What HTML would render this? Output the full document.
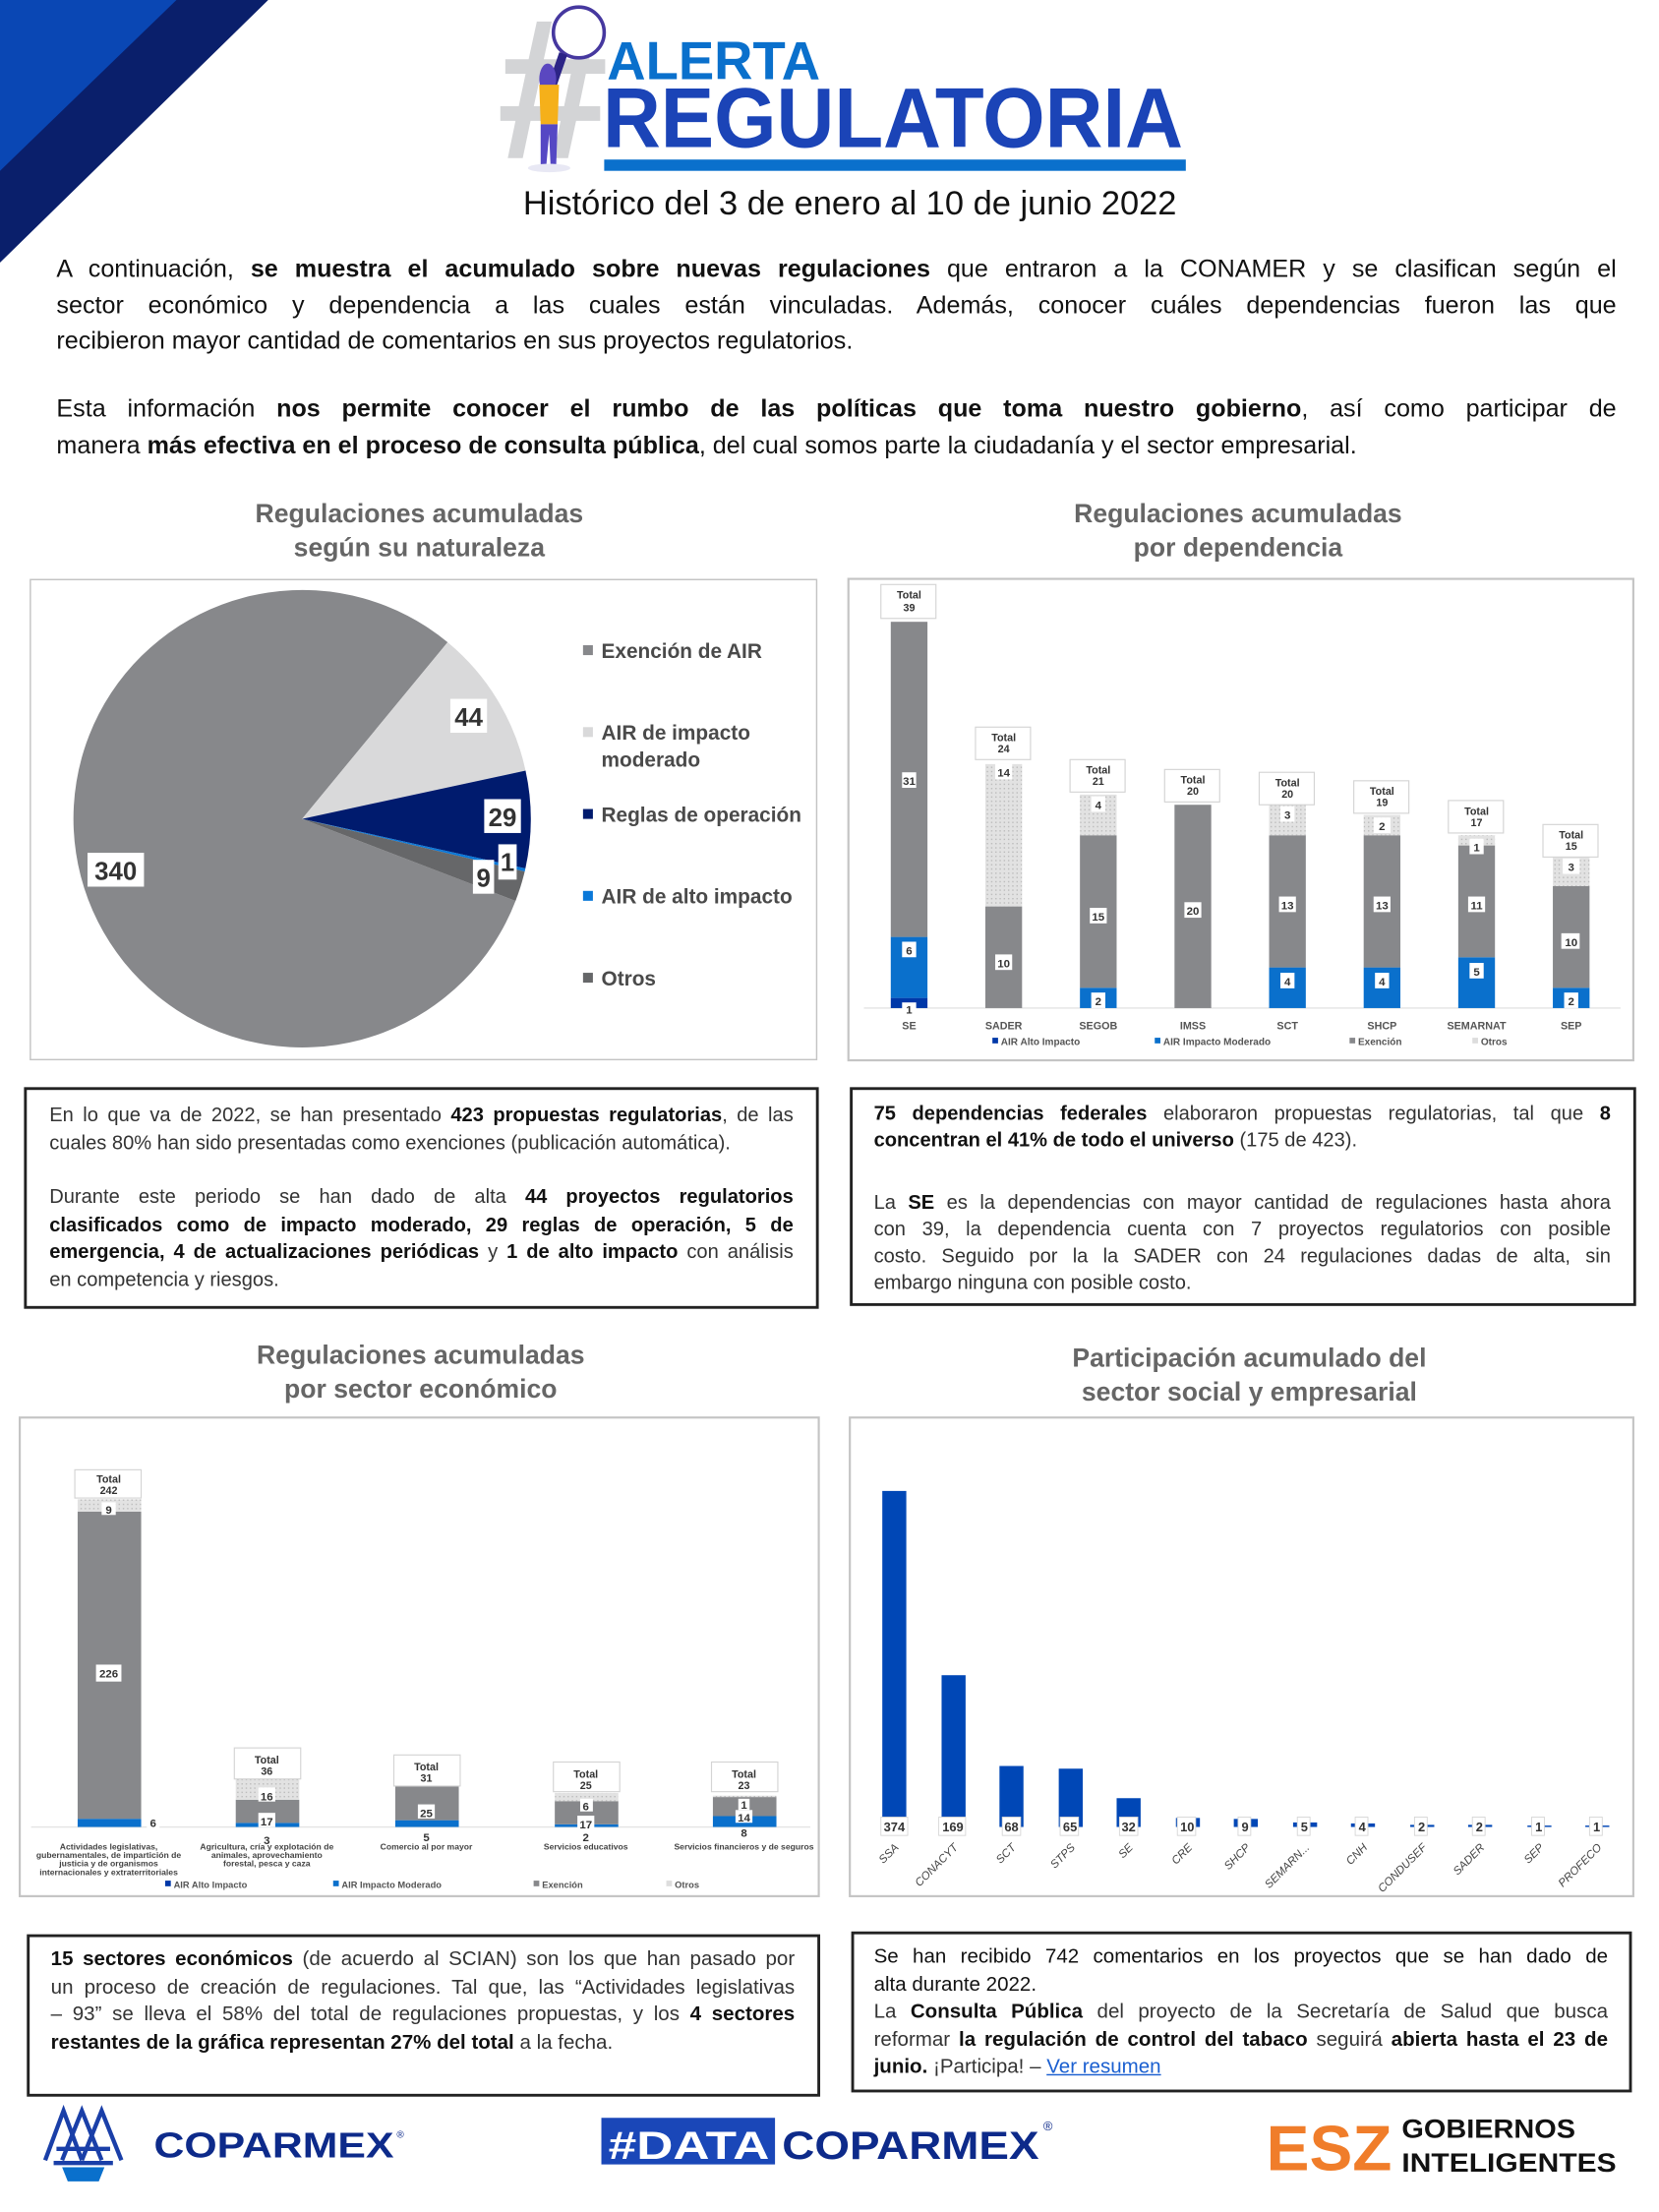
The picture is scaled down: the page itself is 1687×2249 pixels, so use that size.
<!DOCTYPE html>
<html><head><meta charset="utf-8">
<style>
html,body{margin:0;padding:0;background:#fff;}
body{width:1687px;height:2249px;overflow:hidden;position:relative;}
#w{position:absolute;left:0;top:0;width:1170px;height:1560px;transform:scale(1.4355);transform-origin:0 0;font-family:"Liberation Sans",sans-serif;color:#111;}
.a{position:absolute;}
.ln{display:block;text-align:justify;text-align-last:justify;white-space:nowrap;}
.ln.l{text-align-last:left;}
.p{font-size:17.5px;line-height:25.5px;left:40px;width:1105px;}
.box{position:absolute;border:2px solid #222;box-sizing:border-box;font-size:14px;color:#333;}
.box b{color:#111;font-weight:bold;}
.tt{font-weight:bold;color:#666;font-size:18.5px;text-align:center;line-height:24px;}
.cb{position:absolute;border:1.5px solid #c4c4c4;box-sizing:border-box;}
</style></head><body><div id="w">

<svg class="a" style="left:0;top:0" width="200" height="200">
<polygon points="0,0 190,0 0,186" fill="#0a1f6b"/>
<polygon points="0,0 125,0 0,121" fill="#0a47b4"/>
</svg>

<!-- logo -->
<svg class="a" style="left:352px;top:0" width="500" height="130">
<text x="0" y="112" font-family="Liberation Sans" font-weight="bold" font-size="142" fill="#d3d4d6">#</text>
<circle cx="58" cy="23" r="18" fill="#fff" stroke="#46389f" stroke-width="2.5"/>
<line x1="47" y1="38" x2="36" y2="70" stroke="#2c2486" stroke-width="6"/>
<ellipse cx="36" cy="56" rx="6" ry="11" fill="#5a47c0"/>
<path d="M30 60 L44 60 L43 88 L31 88 Z" fill="#f5b01a"/>
<path d="M31 88 L43 88 L42 117 L38 117 L37 95 L35 117 L31 117 Z" fill="#5548c4"/>
<ellipse cx="37" cy="119" rx="15" ry="3" fill="#e8e8f4"/>
<text x="78" y="56" font-family="Liberation Sans" font-weight="bold" font-size="38" fill="#0a70cc" textLength="151" lengthAdjust="spacingAndGlyphs">ALERTA</text>
<text x="75" y="104" font-family="Liberation Sans" font-weight="bold" font-size="60" fill="#1b44b7" textLength="411" lengthAdjust="spacingAndGlyphs">REGULATORIA</text>
<rect x="76" y="113" width="412" height="8" fill="#0a70cc"/>
</svg>

<div class="a" style="left:0;width:1204px;top:131px;text-align:center;font-size:24px;color:#111;">Histórico del 3 de enero al 10 de junio 2022</div>

<div class="a p" style="top:178px;">
<span class="ln">A continuación, <b>se muestra el acumulado sobre nuevas regulaciones</b> que entraron a la CONAMER y se clasifican según el</span>
<span class="ln">sector económico y dependencia a las cuales están vinculadas. Además, conocer cuáles dependencias fueron las que</span>
<span class="ln l">recibieron mayor cantidad de comentarios en sus proyectos regulatorios.</span>
</div>
<div class="a p" style="top:277px;">
<span class="ln">Esta información <b>nos permite conocer el rumbo de las políticas que toma nuestro gobierno</b>, así como participar de</span>
<span class="ln l">manera <b>más efectiva en el proceso de consulta pública</b>, del cual somos parte la ciudadanía y el sector empresarial.</span>
</div>

<div class="a tt" style="left:97px;width:400px;top:352px;">Regulaciones acumuladas<br>según su naturaleza</div>
<div class="a tt" style="left:677px;width:400px;top:352px;">Regulaciones acumuladas<br>por dependencia</div>
<div class="a tt" style="left:98px;width:400px;top:948px;">Regulaciones acumuladas<br>por sector económico</div>
<div class="a tt" style="left:685px;width:400px;top:950px;">Participación acumulado del<br>sector social y empresarial</div>

<!-- pie box -->
<div class="cb" style="left:21px;top:410px;width:558px;height:341px;"></div>
<svg class="a" style="left:0;top:0" width="1170" height="1560" font-family="Liberation Sans">
<defs>
<pattern id="dots" width="3" height="3" patternUnits="userSpaceOnUse"><rect width="3" height="3" fill="#e2e2e2"/><rect width="1" height="1" fill="#bdbdbd"/></pattern>
</defs>
<!-- pie -->
<path d="M214,580 L365.2,638.1 A162,162 0 1 1 317.1,454.9 Z" fill="#87888b"/>
<path d="M214,580 L317.1,454.9 A162,162 0 0 1 372.3,545.8 Z" fill="#d9d9da"/>
<path d="M214,580 L372.3,545.8 A162,162 0 0 1 372.2,615.1 Z" fill="#001b6e"/>
<path d="M214,580 L372.2,615.1 A162,162 0 0 1 371.7,617.3 Z" fill="#0a78d8"/>
<path d="M214,580 L371.7,617.3 A162,162 0 0 1 365.2,638.1 Z" fill="#666769"/>
<g font-weight="bold" font-size="18" fill="#333" text-anchor="middle">
<rect x="319" y="495" width="26" height="24" fill="#fff"/><text x="332" y="514">44</text>
<rect x="343" y="566" width="26" height="24" fill="#fff"/><text x="356" y="585">29</text>
<rect x="353" y="598" width="13" height="25" fill="#fff"/><text x="359.5" y="617">1</text>
<rect x="335" y="609" width="15" height="24" fill="#fff"/><text x="342.5" y="628">9</text>
<rect x="62" y="604" width="40" height="24" fill="#fff"/><text x="82" y="623">340</text>
</g>
<g font-weight="bold" font-size="14.5" fill="#4a4a4a">
<rect x="413" y="457" width="7" height="7" fill="#87888b"/><text x="426" y="466">Exención de AIR</text>
<rect x="413" y="515" width="7" height="7" fill="#d9d9da"/><text x="426" y="524">AIR de impacto</text><text x="426" y="543">moderado</text>
<rect x="413" y="573" width="7" height="7" fill="#001b6e"/><text x="426" y="582">Reglas de operación</text>
<rect x="413" y="631" width="7" height="7" fill="#0a78d8"/><text x="426" y="640">AIR de alto impacto</text>
<rect x="413" y="689" width="7" height="7" fill="#666769"/><text x="426" y="698">Otros</text>
</g>

<!-- chart 2 -->
<rect x="601" y="410" width="556" height="341" fill="none" stroke="#c4c4c4" stroke-width="1.5"/>
<line x1="612" y1="714" x2="1148" y2="714" stroke="#e4e4e4"/>
<g>
<rect x="631" y="706.8" width="26" height="7.2" fill="#0038a8"/>
<rect x="631" y="663.6" width="26" height="43.2" fill="#0a70cc"/>
<rect x="631" y="440.4" width="26" height="223.2" fill="#87888b"/>
<rect x="698" y="642" width="26" height="72" fill="#87888b"/>
<rect x="698" y="541.2" width="26" height="100.8" fill="url(#dots)"/>
<rect x="765" y="699.6" width="26" height="14.4" fill="#0a70cc"/>
<rect x="765" y="591.6" width="26" height="108" fill="#87888b"/>
<rect x="765" y="562.8" width="26" height="28.8" fill="url(#dots)"/>
<rect x="832" y="570" width="26" height="144" fill="#87888b"/>
<rect x="899" y="685.2" width="26" height="28.8" fill="#0a70cc"/>
<rect x="899" y="591.6" width="26" height="93.6" fill="#87888b"/>
<rect x="899" y="570" width="26" height="21.6" fill="url(#dots)"/>
<rect x="966" y="685.2" width="26" height="28.8" fill="#0a70cc"/>
<rect x="966" y="591.6" width="26" height="93.6" fill="#87888b"/>
<rect x="966" y="577.2" width="26" height="14.4" fill="url(#dots)"/>
<rect x="1033" y="678" width="26" height="36" fill="#0a70cc"/>
<rect x="1033" y="598.8" width="26" height="79.2" fill="#87888b"/>
<rect x="1033" y="591.6" width="26" height="7.2" fill="url(#dots)"/>
<rect x="1100" y="699.6" width="26" height="14.4" fill="#0a70cc"/>
<rect x="1100" y="627.6" width="26" height="72" fill="#87888b"/>
<rect x="1100" y="606" width="26" height="21.6" fill="url(#dots)"/>
</g>
<g fill="#fff" stroke="#d4d4d4" stroke-width="0.8">
<rect x="624" y="414" width="39" height="24"/><rect x="691" y="515" width="39" height="23"/><rect x="758" y="538" width="39" height="23"/><rect x="825" y="545" width="39" height="23"/><rect x="892" y="547" width="39" height="23"/><rect x="959" y="553" width="39" height="23"/><rect x="1026" y="567" width="39" height="23"/><rect x="1093" y="584" width="39" height="23"/>
</g>
<g font-size="7.5" font-weight="bold" fill="#333" text-anchor="middle">
<text x="644" y="424">Total</text><text x="644" y="433">39</text>
<text x="711" y="525">Total</text><text x="711" y="533">24</text>
<text x="778" y="548">Total</text><text x="778" y="556">21</text>
<text x="845" y="555">Total</text><text x="845" y="563">20</text>
<text x="912" y="557">Total</text><text x="912" y="565">20</text>
<text x="979" y="563">Total</text><text x="979" y="571">19</text>
<text x="1046" y="577">Total</text><text x="1046" y="585">17</text>
<text x="1113" y="594">Total</text><text x="1113" y="602">15</text>
</g>
<g fill="#fff"><rect x="639" y="547" width="10" height="11"/><rect x="639" y="667" width="10" height="11"/><rect x="639" y="710" width="10" height="10"/><rect x="705" y="541" width="12" height="11"/><rect x="705" y="676" width="12" height="11"/><rect x="773" y="564" width="10" height="11"/><rect x="772" y="643" width="12" height="11"/><rect x="773" y="703" width="10" height="11"/><rect x="839" y="639" width="12" height="11"/><rect x="907" y="571" width="10" height="11"/><rect x="906" y="635" width="12" height="11"/><rect x="907" y="689" width="10" height="11"/><rect x="973" y="579" width="12" height="11"/><rect x="973" y="635" width="12" height="11"/><rect x="974" y="689" width="10" height="11"/><rect x="1041" y="594" width="10" height="11"/><rect x="1040" y="635" width="12" height="11"/><rect x="1041" y="682" width="10" height="11"/><rect x="1107" y="608" width="12" height="11"/><rect x="1106" y="661" width="13" height="11"/><rect x="1108" y="703" width="10" height="11"/></g>
<g font-size="8" font-weight="bold" fill="#333" text-anchor="middle">
<text x="644" y="556">31</text><text x="644" y="676">6</text><text x="644" y="718">1</text>
<text x="711" y="550">14</text><text x="711" y="685">10</text>
<text x="778" y="573">4</text><text x="778" y="652">15</text><text x="778" y="712">2</text>
<text x="845" y="648">20</text>
<text x="912" y="580">3</text><text x="912" y="644">13</text><text x="912" y="698">4</text>
<text x="979" y="588">2</text><text x="979" y="644">13</text><text x="979" y="698">4</text>
<text x="1046" y="603">1</text><text x="1046" y="644">11</text><text x="1046" y="691">5</text>
<text x="1113" y="617">3</text><text x="1113" y="670">10</text><text x="1113" y="712">2</text>
</g>
<g font-size="7.5" font-weight="bold" fill="#555" text-anchor="middle">
<text x="644" y="729">SE</text><text x="711" y="729">SADER</text><text x="778" y="729">SEGOB</text><text x="845" y="729">IMSS</text><text x="912" y="729">SCT</text><text x="979" y="729">SHCP</text><text x="1046" y="729">SEMARNAT</text><text x="1113" y="729">SEP</text>
</g>
<g font-size="7" font-weight="bold" fill="#555">
<rect x="703" y="735" width="4" height="4" fill="#0038a8"/><text x="709" y="740">AIR Alto Impacto</text>
<rect x="818" y="735" width="4" height="4" fill="#0a70cc"/><text x="824" y="740">AIR Impacto Moderado</text>
<rect x="956" y="735" width="4" height="4" fill="#87888b"/><text x="962" y="740">Exención</text>
<rect x="1043" y="735" width="4" height="4" fill="#ddd"/><text x="1049" y="740">Otros</text>
</g>

<!-- chart 3 -->
<rect x="14" y="1004" width="566" height="339" fill="none" stroke="#c4c4c4" stroke-width="1.5"/>
<line x1="22" y1="1294" x2="574" y2="1294" stroke="#e4e4e4"/>
<rect x="55" y="1288.2" width="45" height="5.8" fill="#0a70cc"/>
<rect x="55" y="1070.6" width="45" height="217.6" fill="#87888b"/>
<rect x="55" y="1061.9" width="45" height="8.7" fill="url(#dots)"/>
<rect x="167" y="1291.1" width="45" height="2.9" fill="#0a70cc"/>
<rect x="167" y="1274.7" width="45" height="16.4" fill="#87888b"/>
<rect x="167" y="1259.3" width="45" height="15.4" fill="url(#dots)"/>
<rect x="280" y="1289.2" width="45" height="4.8" fill="#0a70cc"/>
<rect x="280" y="1265.1" width="45" height="24.1" fill="#87888b"/>
<rect x="393" y="1292.1" width="45" height="1.9" fill="#0a70cc"/>
<rect x="393" y="1275.7" width="45" height="16.4" fill="#87888b"/>
<rect x="393" y="1269.9" width="45" height="5.8" fill="url(#dots)"/>
<rect x="505" y="1286.3" width="45" height="7.7" fill="#0a70cc"/>
<rect x="505" y="1272.8" width="45" height="13.5" fill="#87888b"/>
<rect x="505" y="1271.8" width="45" height="1" fill="url(#dots)"/>
<g fill="#fff" stroke="#d4d4d4" stroke-width="0.8">
<rect x="53" y="1041" width="47" height="20"/><rect x="166" y="1238" width="47" height="22"/><rect x="279" y="1243" width="47" height="22"/><rect x="392" y="1248" width="47" height="21"/><rect x="504" y="1248" width="47" height="21"/>
</g>
<g font-size="7.5" font-weight="bold" fill="#333" text-anchor="middle">
<text x="77" y="1050">Total</text><text x="77" y="1058">242</text>
<text x="189" y="1249">Total</text><text x="189" y="1257">36</text>
<text x="302" y="1254">Total</text><text x="302" y="1262">31</text>
<text x="415" y="1259">Total</text><text x="415" y="1267">25</text>
<text x="527" y="1259">Total</text><text x="527" y="1267">23</text>
</g>
<g fill="#fff"><rect x="72" y="1064" width="10" height="9"/><rect x="68" y="1179" width="18" height="12"/><rect x="104" y="1285" width="9" height="11"/><rect x="183" y="1266" width="12" height="10"/><rect x="183" y="1284" width="12" height="10"/><rect x="296" y="1278" width="12" height="10"/><rect x="411" y="1274" width="9" height="9"/><rect x="409" y="1286" width="12" height="10"/><rect x="523" y="1274" width="8" height="8"/><rect x="521" y="1282" width="12" height="9"/></g>
<g font-size="8" font-weight="bold" fill="#333" text-anchor="middle">
<text x="77" y="1072">9</text><text x="77" y="1188">226</text><text x="108.5" y="1294">6</text>
<text x="189" y="1275">16</text><text x="189" y="1293">17</text><text x="189" y="1306">3</text>
<text x="302" y="1287">25</text><text x="302" y="1304">5</text>
<text x="415" y="1282">6</text><text x="415" y="1295">17</text><text x="415" y="1304">2</text>
<text x="527" y="1281">1</text><text x="527" y="1290">14</text><text x="527" y="1301">8</text>
</g>
<g font-size="6" font-weight="bold" fill="#444" text-anchor="middle">
<text x="77" y="1310">Actividades legislativas,</text><text x="77" y="1316">gubernamentales, de impartición de</text><text x="77" y="1322">justicia y de organismos</text><text x="77" y="1328">internacionales y extraterritoriales</text>
<text x="189" y="1310">Agricultura, cría y explotación de</text><text x="189" y="1316">animales, aprovechamiento</text><text x="189" y="1322">forestal, pesca y caza</text>
<text x="302" y="1310">Comercio al por mayor</text>
<text x="415" y="1310">Servicios educativos</text>
<text x="527" y="1310">Servicios financieros y de seguros</text>
</g>
<g font-size="6.5" font-weight="bold" fill="#555">
<rect x="117" y="1332" width="4" height="4" fill="#0038a8"/><text x="123" y="1337">AIR Alto Impacto</text>
<rect x="236" y="1332" width="4" height="4" fill="#0a70cc"/><text x="242" y="1337">AIR Impacto Moderado</text>
<rect x="378" y="1332" width="4" height="4" fill="#87888b"/><text x="384" y="1337">Exención</text>
<rect x="472" y="1332" width="4" height="4" fill="#ddd"/><text x="478" y="1337">Otros</text>
</g>

<!-- chart 4 -->
<rect x="602" y="1004" width="555" height="339" fill="none" stroke="#c4c4c4" stroke-width="1.5"/>
<g fill="#0047b6">
<rect x="625" y="1056" width="17" height="238"/>
<rect x="667" y="1186.5" width="17" height="107.5"/>
<rect x="708" y="1250.8" width="17" height="43.2"/>
<rect x="750" y="1252.7" width="17" height="41.3"/>
<rect x="791" y="1273.6" width="17" height="20.4"/>
<rect x="833" y="1287.6" width="17" height="6.4"/>
<rect x="874" y="1288.3" width="17" height="5.7"/>
<rect x="916" y="1290.8" width="17" height="3.2"/>
<rect x="957" y="1291.5" width="17" height="2.5"/>
<rect x="999" y="1292.5" width="17" height="1.5"/>
<rect x="1040" y="1292.5" width="17" height="1.5"/>
<rect x="1082" y="1293" width="17" height="1"/>
<rect x="1123" y="1293" width="17" height="1"/>
</g>
<g fill="#fff" stroke="#d4d4d4" stroke-width="0.6">
<rect x="624" y="1287" width="19" height="13"/><rect x="665" y="1287" width="19" height="13"/><rect x="710" y="1287" width="13" height="13"/><rect x="751" y="1287" width="13" height="13"/><rect x="793" y="1287" width="13" height="13"/><rect x="834" y="1287" width="13" height="13"/><rect x="877" y="1287" width="9" height="13"/><rect x="919" y="1287" width="9" height="13"/><rect x="960" y="1287" width="9" height="13"/><rect x="1002" y="1287" width="9" height="13"/><rect x="1043" y="1287" width="9" height="13"/><rect x="1085" y="1287" width="9" height="13"/><rect x="1126" y="1287" width="9" height="13"/>
</g>
<g font-size="9" font-weight="bold" fill="#333" text-anchor="middle">
<text x="633.5" y="1297">374</text><text x="675" y="1297">169</text><text x="716.5" y="1297">68</text><text x="758" y="1297">65</text><text x="799.5" y="1297">32</text><text x="841" y="1297">10</text><text x="882" y="1297">9</text><text x="924" y="1297">5</text><text x="965" y="1297">4</text><text x="1007" y="1297">2</text><text x="1048" y="1297">2</text><text x="1090" y="1297">1</text><text x="1131" y="1297">1</text>
</g>
<g font-size="8" font-style="italic" fill="#444" text-anchor="end">
<text transform="translate(637,1309) rotate(-45)">SSA</text>
<text transform="translate(679,1309) rotate(-45)">CONACYT</text>
<text transform="translate(720,1309) rotate(-45)">SCT</text>
<text transform="translate(762,1309) rotate(-45)">STPS</text>
<text transform="translate(803,1309) rotate(-45)">SE</text>
<text transform="translate(845,1309) rotate(-45)">CRE</text>
<text transform="translate(886,1309) rotate(-45)">SHCP</text>
<text transform="translate(928,1309) rotate(-45)">SEMARN...</text>
<text transform="translate(969,1309) rotate(-45)">CNH</text>
<text transform="translate(1011,1309) rotate(-45)">CONDUSEF</text>
<text transform="translate(1052,1309) rotate(-45)">SADER</text>
<text transform="translate(1094,1309) rotate(-45)">SEP</text>
<text transform="translate(1135,1309) rotate(-45)">PROFECO</text>
</g>

<!-- footer logos -->
<g fill="none" stroke="#1a3fa8" stroke-width="3">
<path d="M32 1530 L45 1495 L58 1530"/><path d="M44 1530 L58 1495 L72 1530"/><path d="M58 1530 L72 1495 L86 1530"/>
<path d="M40 1522 L78 1522"/><path d="M38 1532 L80 1532"/>
</g>
<path d="M44 1535 L74 1535 L70 1545 L48 1545 Z" fill="#0a70cc"/>
<text x="109" y="1528" font-size="25" font-weight="bold" fill="#0d2a8a" textLength="170" lengthAdjust="spacingAndGlyphs">COPARMEX</text>
<text x="281" y="1514" font-size="7" fill="#0d2a8a">®</text>
<rect x="426" y="1500" width="123" height="33" fill="#1a47b8"/>
<text x="431" y="1529" font-size="28" font-weight="bold" fill="#fff" textLength="114" lengthAdjust="spacingAndGlyphs">#DATA</text>
<text x="554" y="1529" font-size="28" font-weight="bold" fill="#0d2a8a" textLength="182" lengthAdjust="spacingAndGlyphs">COPARMEX</text>
<text x="739" y="1509" font-size="9" fill="#0d2a8a">®</text>
<text x="897" y="1537" font-size="45" font-weight="bold" fill="#f07d2a" textLength="89" lengthAdjust="spacingAndGlyphs">ESZ</text>
<text x="993" y="1514" font-size="19" font-weight="bold" fill="#111" textLength="123" lengthAdjust="spacingAndGlyphs">GOBIERNOS</text>
<text x="993" y="1538" font-size="19" font-weight="bold" fill="#111" textLength="152" lengthAdjust="spacingAndGlyphs">INTELIGENTES</text>
</svg>

<!-- text boxes -->
<div class="box" style="left:17px;top:770px;width:563px;height:157px;padding:8px 16px 0 16px;line-height:19.6px;">
<span class="ln">En lo que va de 2022, se han presentado <b>423 propuestas regulatorias</b>, de las</span>
<span class="ln l">cuales 80% han sido presentadas como exenciones (publicación automática).</span>
<span class="ln" style="margin-top:19px;">Durante este periodo se han dado de alta <b>44 proyectos regulatorios</b></span>
<span class="ln"><b>clasificados como de impacto moderado, 29 reglas de operación, 5 de</b></span>
<span class="ln"><b>emergencia, 4 de actualizaciones periódicas</b> y <b>1 de alto impacto</b> con análisis</span>
<span class="ln l">en competencia y riesgos.</span>
</div>
<div class="box" style="left:602px;top:770px;width:557px;height:155px;padding:7px 16px 0 15px;line-height:19px;">
<span class="ln"><b>75 dependencias federales</b> elaboraron propuestas regulatorias, tal que <b>8</b></span>
<span class="ln l"><b>concentran el 41% de todo el universo</b> (175 de 423).</span>
<span class="ln" style="margin-top:25px;">La <b>SE</b> es  la dependencias con mayor cantidad de regulaciones hasta ahora</span>
<span class="ln">con 39, la dependencia cuenta con 7 proyectos regulatorios con posible</span>
<span class="ln">costo. Seguido por la  la SADER con 24 regulaciones dadas de alta, sin</span>
<span class="ln l">embargo ninguna con posible costo.</span>
</div>
<div class="box" style="left:19px;top:1370px;width:562px;height:115px;padding:7px 16px 0 15px;line-height:19.6px;font-size:14.3px;">
<span class="ln"><b>15 sectores económicos</b> (de acuerdo al SCIAN) son los que han pasado por</span>
<span class="ln">un proceso de creación de regulaciones. Tal que, las “Actividades legislativas</span>
<span class="ln">– 93” se lleva el 58% del total de regulaciones propuestas, y los <b>4 sectores</b></span>
<span class="ln l"><b>restantes de la gráfica representan 27% del total</b> a la fecha.</span>
</div>
<div class="box" style="left:603px;top:1368px;width:553px;height:114px;padding:7px 15px 0 14px;line-height:19.6px;font-size:14.3px;color:#111;">
<span class="ln">Se han recibido 742 comentarios en los proyectos que se han dado de</span>
<span class="ln l">alta durante 2022.</span>
<span class="ln" style="color:#333">La <b>Consulta Pública</b> del proyecto de la Secretaría de Salud que busca</span>
<span class="ln" style="color:#333">reformar <b>la regulación de control del tabaco</b> seguirá <b>abierta hasta el 23 de</b></span>
<span class="ln l" style="color:#333"><b>junio.</b> ¡Participa! – <u style="color:#1a5fd0">Ver resumen</u></span>
</div>

</div></body></html>
